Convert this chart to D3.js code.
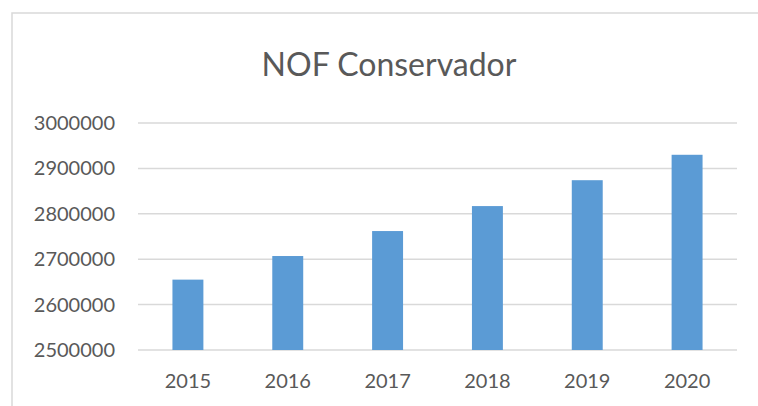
<!DOCTYPE html>
<html>
<head>
<meta charset="utf-8">
<script src="https://cdn.jsdelivr.net/npm/d3@7"></script>
<style>
  body { margin: 0; background: #fff; }
  text { font-family: Lato, "Open Sans", sans-serif; fill: #595959; }
</style>
</head>
<body>
<svg id="chart" width="758" height="406"></svg>
<script>
const years = ["2015", "2016", "2017", "2018", "2019", "2020"];
const values = [2655000, 2707000, 2762000, 2817000, 2874000, 2930000];
const yTicks = [2500000, 2600000, 2700000, 2800000, 2900000, 3000000];

const svg = d3.select("#chart");
const width = +svg.attr("width");
const height = +svg.attr("height");

const margin = {left: 138, right: 21, top: 123, bottom: 56};

// chart frame (only top and left edges visible in the crop)
svg.append("path")
  .attr("d", `M12,${height} L12,13 L${width},13`)
  .attr("fill", "none")
  .attr("stroke", "#d9d9d9")
  .attr("stroke-width", 1.5);

svg.append("text")
  .attr("x", 389)
  .attr("y", 76)
  .attr("text-anchor", "middle")
  .attr("font-size", "32px")
  .text("NOF Conservador");

const x = d3.scaleBand()
  .domain(years)
  .range([margin.left, width - margin.right])
  .paddingInner(0.69)
  .paddingOuter(0.345);

const y = d3.scaleLinear()
  .domain([2500000, 3000000])
  .range([height - margin.bottom, margin.top]);

// gridlines
svg.append("g")
  .selectAll("line")
  .data(yTicks)
  .enter()
  .append("line")
  .attr("x1", margin.left)
  .attr("x2", width - margin.right)
  .attr("y1", d => y(d))
  .attr("y2", d => y(d))
  .attr("stroke", "#d9d9d9")
  .attr("stroke-width", 1.5);

// y labels
svg.append("g")
  .selectAll("text")
  .data(yTicks)
  .enter()
  .append("text")
  .attr("x", 115)
  .attr("y", d => y(d))
  .attr("dy", "0.35em")
  .attr("text-anchor", "end")
  .attr("font-size", "20px")
  .text(d => d3.format("d")(d));

// bars
svg.append("g")
  .selectAll("rect")
  .data(values)
  .enter()
  .append("rect")
  .attr("x", (d, i) => x(years[i]))
  .attr("width", x.bandwidth())
  .attr("y", d => y(d))
  .attr("height", d => y(2500000) - y(d))
  .attr("fill", "#5b9bd5");

// x labels
svg.append("g")
  .selectAll("text")
  .data(years)
  .enter()
  .append("text")
  .attr("x", d => x(d) + x.bandwidth() / 2)
  .attr("y", 388)
  .attr("text-anchor", "middle")
  .attr("font-size", "20px")
  .text(d => d);
</script>
</body>
</html>
